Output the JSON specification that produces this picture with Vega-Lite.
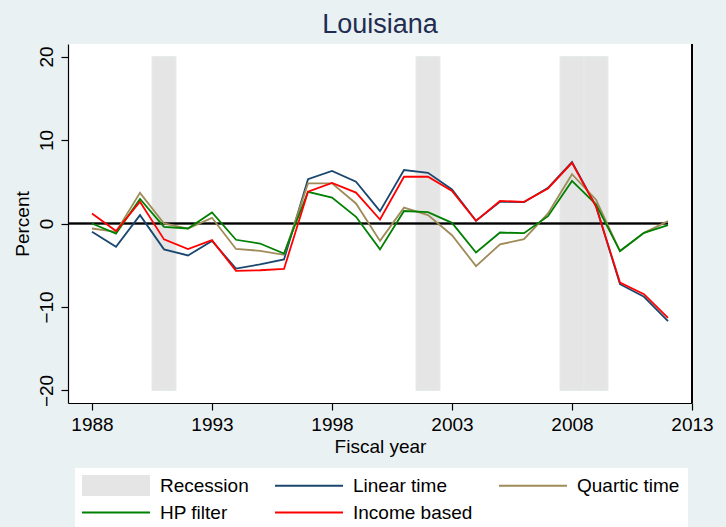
{
  "$schema": "https://vega.github.io/schema/vega-lite/v6.json",
  "width": 624,
  "height": 359,
  "autosize": {"type": "none"},
  "padding": {"left": 68, "top": 44, "right": 34, "bottom": 124},
  "background": "#EAF1F3",
  "config": {
    "view": {"fill": "white", "stroke": null},
    "font": "Liberation Sans",
    "axis": {
      "labelFont": "Liberation Sans", "labelFontSize": 19, "labelColor": "#000",
      "titleFont": "Liberation Sans", "titleFontSize": 19, "titleColor": "#000", "titleFontWeight": "normal",
      "domainColor": "#000", "tickColor": "#000", "tickSize": 7, "grid": false, "domainWidth": 1.2, "tickWidth": 1.2
    }
  },
  "title": {
    "text": "Louisiana", "font": "Liberation Sans", "fontSize": 27, "fontWeight": "normal",
    "color": "#1F2D52", "anchor": "middle", "frame": "group", "baseline": "alphabetic", "offset": 11, "dy": 28
  },
  "datasets": {
    "recessions": [
      {"start": 1990.5, "end": 1991.5},
      {"start": 2001.5, "end": 2002.5},
      {"start": 2007.5, "end": 2008.5},
      {"start": 2008.5, "end": 2009.5}
    ],
    "series": [
      {"year": 1988, "series": "Linear time", "value": -1.0},
      {"year": 1989, "series": "Linear time", "value": -2.8},
      {"year": 1990, "series": "Linear time", "value": 1.0},
      {"year": 1991, "series": "Linear time", "value": -3.1},
      {"year": 1992, "series": "Linear time", "value": -3.83},
      {"year": 1993, "series": "Linear time", "value": -2.1},
      {"year": 1994, "series": "Linear time", "value": -5.4},
      {"year": 1995, "series": "Linear time", "value": -4.9},
      {"year": 1996, "series": "Linear time", "value": -4.3},
      {"year": 1997, "series": "Linear time", "value": 5.3},
      {"year": 1998, "series": "Linear time", "value": 6.3},
      {"year": 1999, "series": "Linear time", "value": 5.0},
      {"year": 2000, "series": "Linear time", "value": 1.48},
      {"year": 2001, "series": "Linear time", "value": 6.4},
      {"year": 2002, "series": "Linear time", "value": 6.07},
      {"year": 2003, "series": "Linear time", "value": 4.07},
      {"year": 2004, "series": "Linear time", "value": 0.32},
      {"year": 2005, "series": "Linear time", "value": 2.6},
      {"year": 2006, "series": "Linear time", "value": 2.55},
      {"year": 2007, "series": "Linear time", "value": 4.27},
      {"year": 2008, "series": "Linear time", "value": 7.35},
      {"year": 2009, "series": "Linear time", "value": 2.08},
      {"year": 2010, "series": "Linear time", "value": -7.27},
      {"year": 2011, "series": "Linear time", "value": -8.78},
      {"year": 2012, "series": "Linear time", "value": -11.7},
      {"year": 1988, "series": "Quartic time", "value": -0.6},
      {"year": 1989, "series": "Quartic time", "value": -1.0},
      {"year": 1990, "series": "Quartic time", "value": 3.67},
      {"year": 1991, "series": "Quartic time", "value": 0.0},
      {"year": 1992, "series": "Quartic time", "value": -0.6},
      {"year": 1993, "series": "Quartic time", "value": 0.68},
      {"year": 1994, "series": "Quartic time", "value": -3.05},
      {"year": 1995, "series": "Quartic time", "value": -3.27},
      {"year": 1996, "series": "Quartic time", "value": -3.75},
      {"year": 1997, "series": "Quartic time", "value": 4.8},
      {"year": 1998, "series": "Quartic time", "value": 4.8},
      {"year": 1999, "series": "Quartic time", "value": 2.4},
      {"year": 2000, "series": "Quartic time", "value": -2.08},
      {"year": 2001, "series": "Quartic time", "value": 1.9},
      {"year": 2002, "series": "Quartic time", "value": 1.0},
      {"year": 2003, "series": "Quartic time", "value": -1.4},
      {"year": 2004, "series": "Quartic time", "value": -5.1},
      {"year": 2005, "series": "Quartic time", "value": -2.5},
      {"year": 2006, "series": "Quartic time", "value": -1.88},
      {"year": 2007, "series": "Quartic time", "value": 1.2},
      {"year": 2008, "series": "Quartic time", "value": 5.9},
      {"year": 2009, "series": "Quartic time", "value": 2.85},
      {"year": 2010, "series": "Quartic time", "value": -3.3},
      {"year": 2011, "series": "Quartic time", "value": -1.12},
      {"year": 2012, "series": "Quartic time", "value": 0.28},
      {"year": 1988, "series": "HP filter", "value": 0.0},
      {"year": 1989, "series": "HP filter", "value": -1.2},
      {"year": 1990, "series": "HP filter", "value": 2.95},
      {"year": 1991, "series": "HP filter", "value": -0.4},
      {"year": 1992, "series": "HP filter", "value": -0.6},
      {"year": 1993, "series": "HP filter", "value": 1.32},
      {"year": 1994, "series": "HP filter", "value": -1.95},
      {"year": 1995, "series": "HP filter", "value": -2.4},
      {"year": 1996, "series": "HP filter", "value": -3.6},
      {"year": 1997, "series": "HP filter", "value": 3.8},
      {"year": 1998, "series": "HP filter", "value": 3.1},
      {"year": 1999, "series": "HP filter", "value": 0.8},
      {"year": 2000, "series": "HP filter", "value": -3.1},
      {"year": 2001, "series": "HP filter", "value": 1.5},
      {"year": 2002, "series": "HP filter", "value": 1.36},
      {"year": 2003, "series": "HP filter", "value": 0.08},
      {"year": 2004, "series": "HP filter", "value": -3.47},
      {"year": 2005, "series": "HP filter", "value": -1.08},
      {"year": 2006, "series": "HP filter", "value": -1.16},
      {"year": 2007, "series": "HP filter", "value": 0.88},
      {"year": 2008, "series": "HP filter", "value": 5.1},
      {"year": 2009, "series": "HP filter", "value": 2.3},
      {"year": 2010, "series": "HP filter", "value": -3.3},
      {"year": 2011, "series": "HP filter", "value": -1.12},
      {"year": 2012, "series": "HP filter", "value": -0.2},
      {"year": 1988, "series": "Income based", "value": 1.2},
      {"year": 1989, "series": "Income based", "value": -0.9},
      {"year": 1990, "series": "Income based", "value": 2.6},
      {"year": 1991, "series": "Income based", "value": -1.9},
      {"year": 1992, "series": "Income based", "value": -3.07},
      {"year": 1993, "series": "Income based", "value": -2.0},
      {"year": 1994, "series": "Income based", "value": -5.67},
      {"year": 1995, "series": "Income based", "value": -5.6},
      {"year": 1996, "series": "Income based", "value": -5.45},
      {"year": 1997, "series": "Income based", "value": 3.8},
      {"year": 1998, "series": "Income based", "value": 4.87},
      {"year": 1999, "series": "Income based", "value": 3.7},
      {"year": 2000, "series": "Income based", "value": 0.48},
      {"year": 2001, "series": "Income based", "value": 5.6},
      {"year": 2002, "series": "Income based", "value": 5.6},
      {"year": 2003, "series": "Income based", "value": 3.9},
      {"year": 2004, "series": "Income based", "value": 0.32},
      {"year": 2005, "series": "Income based", "value": 2.7},
      {"year": 2006, "series": "Income based", "value": 2.6},
      {"year": 2007, "series": "Income based", "value": 4.2},
      {"year": 2008, "series": "Income based", "value": 7.27},
      {"year": 2009, "series": "Income based", "value": 2.03},
      {"year": 2010, "series": "Income based", "value": -7.07},
      {"year": 2011, "series": "Income based", "value": -8.46},
      {"year": 2012, "series": "Income based", "value": -11.3}
    ]
  },
  "layer": [
    {
      "data": {"name": "recessions"},
      "mark": {"type": "rect", "color": "#E5E5E5", "stroke": "#E6EBEB", "strokeWidth": 1},
      "encoding": {
        "x": {"field": "start", "type": "quantitative", "scale": {"domain": [1987, 2013], "nice": false, "zero": false},
              "axis": {"values": [1988, 1993, 1998, 2003, 2008, 2013], "format": "d", "labelPadding": 5, "title": "Fiscal year", "titlePadding": 3, "labelFlush": false}},
        "x2": {"field": "end"},
        "y": {"datum": -20, "type": "quantitative", "scale": {"domain": [-21.5, 21.5], "nice": false, "zero": false},
              "axis": {"values": [-20, -10, 0, 10, 20], "labelAngle": -90, "labelAlign": "center", "labelBaseline": "alphabetic", "labelPadding": 9, "title": "Percent", "titlePadding": 5}},
        "y2": {"datum": 20}
      }
    },
    {
      "data": {"name": "recessions"},
      "mark": {"type": "rule", "color": "#000", "strokeWidth": 1.5},
      "encoding": {
        "x": {"datum": 1987, "type": "quantitative"},
        "x2": {"datum": 2012, "type": "quantitative"},
        "y": {"datum": 0, "type": "quantitative"}
      }
    },
    {
      "data": {"name": "series"},
      "mark": {"type": "line", "strokeWidth": 1.8},
      "encoding": {
        "x": {"field": "year", "type": "quantitative"},
        "y": {"field": "value", "type": "quantitative"},
        "color": {
          "field": "series", "type": "nominal",
          "scale": {"domain": ["Recession", "Linear time", "Quartic time", "HP filter", "Income based"],
                    "range": ["#E5E5E5", "#1A476F", "#9E8B58", "#008000", "#FF0000"]},
          "legend": {
            "title": null, "orient": "none", "legendX": 7, "legendY": 424, "direction": "horizontal", "columns": 3,
            "labelFont": "Liberation Sans", "labelFontSize": 19, "labelColor": "#000", "labelLimit": 300,
            "symbolSize": 361, "symbolStrokeWidth": 2, "symbolOffset": 23.5, "labelOffset": 34.5,
            "rowPadding": 7, "columnPadding": 21, "padding": 8, "fillColor": "white",
            "encode": {"symbols": {"update": {
              "shape": {"signal": "datum.value === 'Recession' ? 'M-3.58,-1.1L3.58,-1.1L3.58,1.1L-3.58,1.1Z' : 'M-3.58,0L3.58,0'"},
              "fill": {"signal": "datum.value === 'Recession' ? '#E5E5E5' : 'transparent'"},
              "strokeWidth": {"signal": "datum.value === 'Recession' ? 0 : 2"}
            }}}
          }
        },
        "order": {"field": "year"}
      }
    },
    {
      "data": {"name": "recessions"},
      "mark": {"type": "rule", "color": "#000", "strokeWidth": 1.5},
      "encoding": {"x": {"datum": 2013, "type": "quantitative"}}
    }
  ]
}
